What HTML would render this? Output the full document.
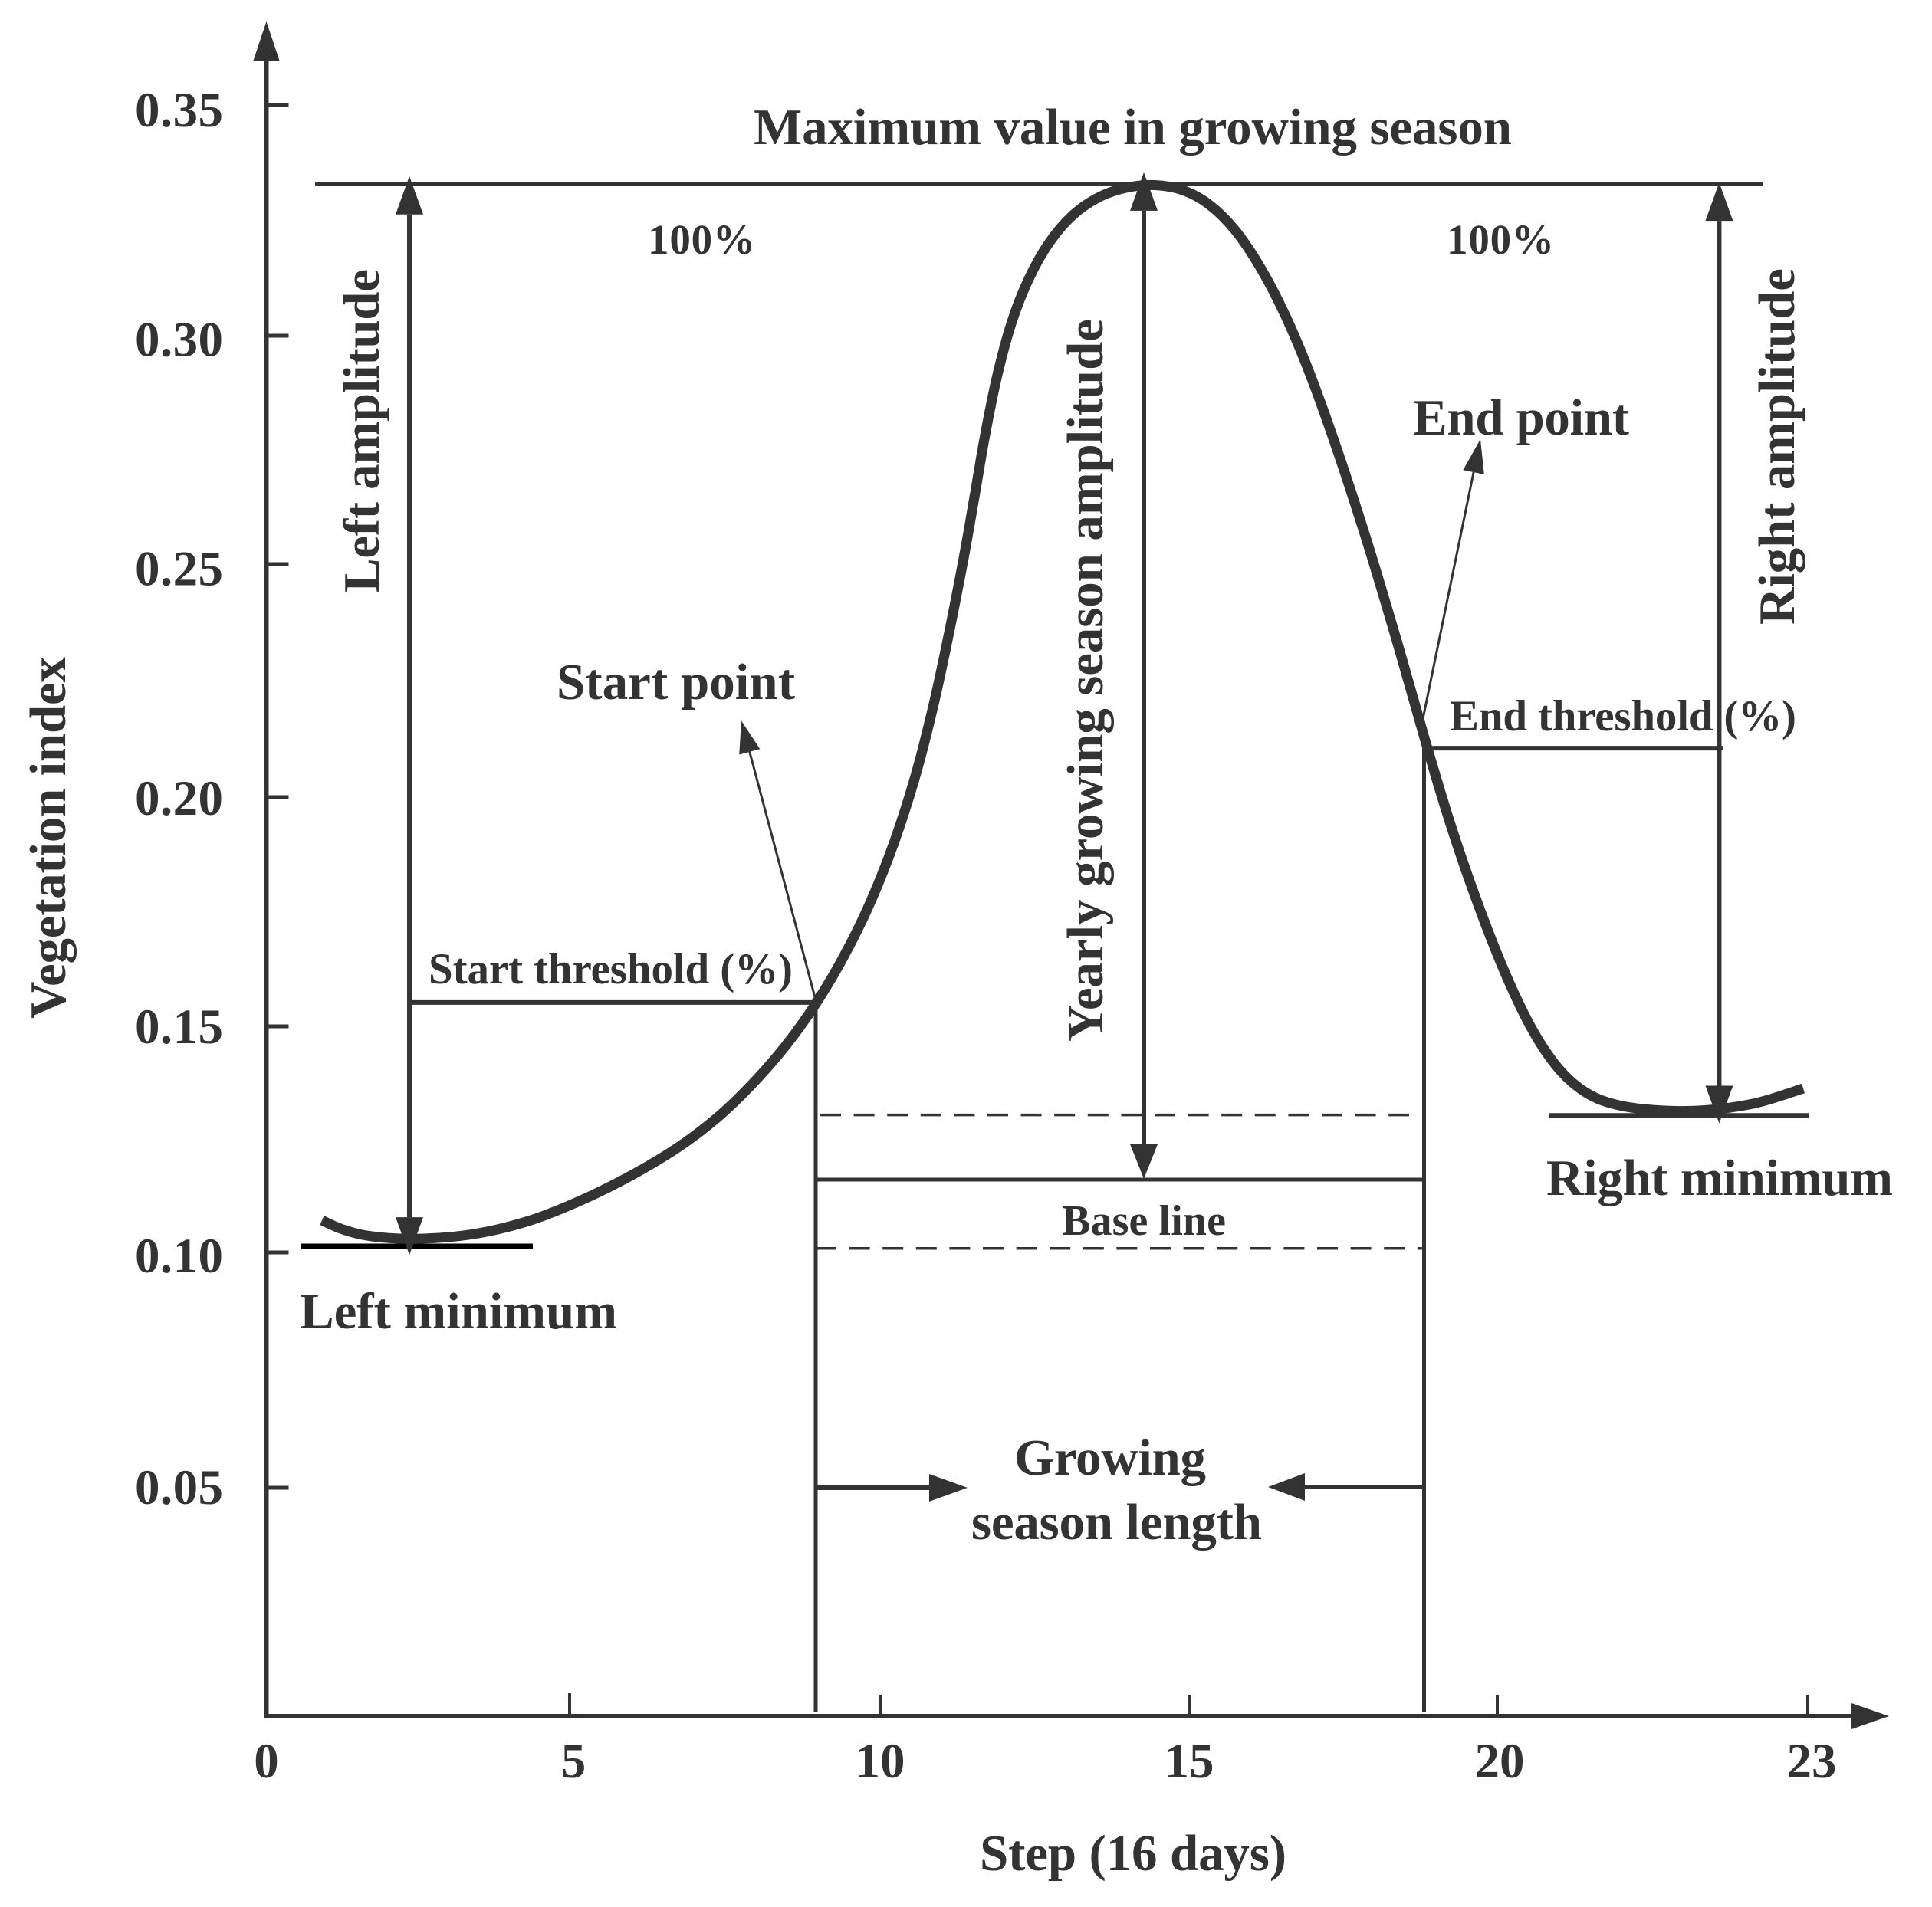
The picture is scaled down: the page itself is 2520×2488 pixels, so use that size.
<!DOCTYPE html>
<html lang="en">
<head>
<meta charset="utf-8">
<title>Vegetation index growing season diagram</title>
<style>
  html, body { margin: 0; padding: 0; background: #fff; }
  svg { display: block; }
  text { font-family: "Liberation Serif", serif; font-weight: bold; fill: #333; }
</style>
</head>
<body>
<svg id="chart" xmlns="http://www.w3.org/2000/svg" width="2520" height="2488" viewBox="0 0 2520 2488">
  <rect x="0" y="0" width="2520" height="2488" fill="#fff"/>
  <g id="marks"></g>
  <g id="ticklabels" font-size="65"></g>

  <text x="1278" y="2440" font-size="67" textLength="400">Step (16 days)</text>
  <text x="85" y="1329" font-size="67" textLength="472" transform="rotate(-90 85 1329)">Vegetation index</text>
  <text x="983" y="188" font-size="67" textLength="989">Maximum value in growing season</text>
  <text x="845" y="331" font-size="55" textLength="140">100%</text>
  <text x="1887" y="331" font-size="55" textLength="140">100%</text>
  <text x="494" y="773" font-size="67" textLength="422" transform="rotate(-90 494 773)">Left amplitude</text>
  <text x="2340" y="815" font-size="67" textLength="465" transform="rotate(-90 2340 815)">Right amplitude</text>
  <text x="1438" y="1359" font-size="67" textLength="943" transform="rotate(-90 1438 1359)">Yearly growing season amplitude</text>
  <text x="726" y="912" font-size="67" textLength="311">Start point</text>
  <text x="1843" y="567" font-size="67" textLength="282">End point</text>
  <text x="559" y="1283" font-size="57" textLength="475">Start threshold (%)</text>
  <text x="1891" y="953" font-size="57" textLength="452">End threshold (%)</text>
  <text x="1385" y="1611" font-size="56" textLength="214">Base line</text>
  <text x="391" y="1733" font-size="67" textLength="414">Left minimum</text>
  <text x="2017" y="1559" font-size="67" textLength="452">Right minimum</text>
  <text x="1323" y="1924" font-size="67" textLength="250">Growing</text>
  <text x="1267" y="2008" font-size="67" textLength="379">season length</text>
</svg>

<script>
// ---- data ----
const xTickValues = [0, 5, 10, 15, 20, 23];
const xTickLabels = ["0", "5", "10", "15", "20", "23"];
const yTickValues = [0.05, 0.10, 0.15, 0.20, 0.25, 0.30, 0.35];
const yTickLabels = ["0.05", "0.10", "0.15", "0.20", "0.25", "0.30", "0.35"];

const curveSteps = [0.917, 1.233, 1.675, 2.358, 3.496, 4.33, 5.173, 6.0, 6.827, 7.383, 7.926, 8.481, 8.951, 9.407, 9.815, 10.236, 10.608, 10.893, 11.141, 11.39, 11.538, 11.675, 11.886, 12.109, 12.382, 12.717, 13.089, 13.536, 13.958, 14.454, 14.901, 15.323, 15.734, 16.144, 16.567, 16.94, 17.388, 17.886, 18.383, 18.843, 19.216, 19.677, 20.104, 20.348, 20.593, 20.844, 21.089, 21.407, 21.948, 22.496, 22.956];
const curveValues = [0.1071, 0.1049, 0.1034, 0.10254, 0.10356, 0.10661, 0.11119, 0.11678, 0.12356, 0.12949, 0.13678, 0.14525, 0.15418, 0.16472, 0.17542, 0.18963, 0.20526, 0.22072, 0.23684, 0.25336, 0.2656, 0.27701, 0.29178, 0.30299, 0.31246, 0.32043, 0.32658, 0.3304, 0.33239, 0.33306, 0.33206, 0.32907, 0.32375, 0.31578, 0.30465, 0.29312, 0.27584, 0.25554, 0.23339, 0.21118, 0.19448, 0.17642, 0.15936, 0.14814, 0.13966, 0.13492, 0.13271, 0.13136, 0.13093, 0.1322, 0.13627];

const maxValue = 0.3329;
const maxLineSteps = [0.803, 22.57];
const leftMinValue = 0.10136;
const leftMinSteps = [0.575, 4.393];
const rightMinValue = 0.1303;
const rightMinSteps = [20.496, 23.01];
const startStep = 8.963;
const endStep = 18.812;
const startThreshold = 0.1552;
const endThreshold = 0.2105;
const baseValue = 0.1161;
const upperDashValue = 0.1304;
const upperDashSteps = [9.037, 18.57];
const lowerDashValue = 0.1009;
const lowerDashSteps = [8.963, 18.78];
const leftAmpStep = 2.358;
const leftAmpValues = [0.0995, 0.3346];
const rightAmpStep = 22.144;
const rightAmpValues = [0.12856, 0.3332];
const centerAmpStep = 14.268;
const centerAmpValues = [0.1163, 0.3354];
const thresholdEndX = 22.18;
const lengthArrowValue = 0.05;
const lengthArrowTips = [11.414, 16.281];
const startCalloutTip = [7.765, 0.2164];
const endCalloutTip = [19.726, 0.27735];
const endCalloutBase = [18.79, 0.2166];

// ---- axis functions ----
function piecewise(domain, range) {
  return function (v) {
    let i = 0;
    while (i < domain.length - 2 && v > domain[i + 1]) i++;
    const t = (v - domain[i]) / (domain[i + 1] - domain[i]);
    return range[i] + t * (range[i + 1] - range[i]);
  };
}
const x = piecewise([0, 5, 10, 15, 20, 23], [347.5, 743, 1148, 1551, 1953, 2358]);
const y = piecewise([0, 0.05, 0.10, 0.15, 0.20, 0.25, 0.30, 0.35], [2239, 1941, 1634, 1339, 1040, 736, 438, 137]);
const yLabel = piecewise([0.05, 0.10, 0.15, 0.20, 0.35], [1962, 1660, 1361, 1063, 165]);

// ---- drawing helpers ----
const NS = "http://www.w3.org/2000/svg";
const INK = "#333";
const marks = document.getElementById("marks");
const labels = document.getElementById("ticklabels");

function line(name, x1, y1, x2, y2, width, color, dash) {
  const el = document.createElementNS(NS, "line");
  
  
  el.setAttribute("x1", x1);
  el.setAttribute("y1", y1);
  el.setAttribute("x2", x2);
  el.setAttribute("y2", y2);
  el.setAttribute("stroke", color || INK);
  el.setAttribute("stroke-width", width);
  if (dash) el.setAttribute("stroke-dasharray", dash);
  marks.appendChild(el);
  return el;
}

function arrow(name, x1, y1, x2, y2, width, headLen, headHalf) {
  const d = Math.hypot(x2 - x1, y2 - y1);
  const ux = (x2 - x1) / d, uy = (y2 - y1) / d;
  const bx = x2 - ux * headLen, by = y2 - uy * headLen;
  line(name + "-shaft", x1, y1, bx, by, width);
  const head = document.createElementNS(NS, "polygon");
  
  
  head.setAttribute("fill", INK);
  head.setAttribute("points",
    x2 + "," + y2 + " " +
    (bx - uy * headHalf) + "," + (by + ux * headHalf) + " " +
    (bx + uy * headHalf) + "," + (by - ux * headHalf));
  marks.appendChild(head);
}

function tickLabel(name, text, px, py, anchor, len) {
  const el = document.createElementNS(NS, "text");
  
  
  el.setAttribute("x", px);
  el.setAttribute("y", py);
  el.setAttribute("text-anchor", anchor);
  if (len) el.setAttribute("textLength", len);
  el.textContent = text;
  labels.appendChild(el);
}

// ---- axes ----
arrow("y-axis", x(0), y(0) + 3, x(0), 28, 6, 51, 17);
arrow("x-axis", x(0) - 3, y(0), 2464, y(0), 6, 49, 17);

xTickValues.forEach(function (v, i) {
  if (v > 0) line("x-tick-" + xTickLabels[i], x(v), y(0), x(v), y(0) - (v === 5 ? 30 : 27), 4);
  const off = v === 23 ? 5 : (v === 0 ? 0 : (v === 5 ? 5 : (v === 20 ? 3 : 0)));
  tickLabel("x-tick-label-" + xTickLabels[i], xTickLabels[i], x(v) + off, 2319, "middle");
});
yTickValues.forEach(function (v, i) {
  line("y-tick-" + yTickLabels[i], x(0), y(v), x(0) + 29, y(v), 5);
  tickLabel("y-tick-label-" + yTickLabels[i], yTickLabels[i], 176, yLabel(v), "start", 115);
});

// ---- reference lines ----
line("maximum-value-line", x(maxLineSteps[0]), y(maxValue), x(maxLineSteps[1]), y(maxValue), 6);
line("left-minimum-line", x(leftMinSteps[0]), y(leftMinValue), x(leftMinSteps[1]), y(leftMinValue), 7, "#000");
line("right-minimum-line", x(rightMinSteps[0]), y(rightMinValue), x(rightMinSteps[1]), y(rightMinValue), 6);
line("start-threshold-line", x(leftAmpStep), y(startThreshold), x(startStep), y(startThreshold), 6);
line("end-threshold-line", x(endStep), y(endThreshold), x(thresholdEndX), y(endThreshold), 6);
line("start-vertical-line", x(startStep), y(startThreshold), x(startStep), y(0) - 5, 5);
line("end-vertical-line", x(endStep), y(endThreshold), x(endStep), y(0) - 5, 5);
line("base-line", x(startStep), y(baseValue), x(endStep), y(baseValue), 5);
line("upper-dashed-line", x(upperDashSteps[0]), y(upperDashValue), x(upperDashSteps[1]), y(upperDashValue), 3.5, INK, "27 16.6");
line("lower-dashed-line", x(lowerDashSteps[0]), y(lowerDashValue), x(lowerDashSteps[1]), y(lowerDashValue), 3.5, INK, "27 16.6");

// ---- curve: light 1-2-1 smoothing of hand-read points, then Catmull-Rom ----
const rawPts = curveSteps.map(function (s, i) { return [x(s), y(curveValues[i])]; });
const pts = rawPts.map(function (p, i) {
  if (i === 0 || i === rawPts.length - 1) return p;
  const a = rawPts[i - 1], b = rawPts[i + 1];
  return [(a[0] + 2 * p[0] + b[0]) / 4, (a[1] + 2 * p[1] + b[1]) / 4];
});
let d = "M" + pts[0][0] + "," + pts[0][1];
for (let i = 0; i < pts.length - 1; i++) {
  const p0 = pts[Math.max(i - 1, 0)], p1 = pts[i], p2 = pts[i + 1], p3 = pts[Math.min(i + 2, pts.length - 1)];
  const c1x = p1[0] + (p2[0] - p0[0]) / 6, c1y = p1[1] + (p2[1] - p0[1]) / 6;
  const c2x = p2[0] - (p3[0] - p1[0]) / 6, c2y = p2[1] - (p3[1] - p1[1]) / 6;
  d += " C" + c1x + "," + c1y + " " + c2x + "," + c2y + " " + p2[0] + "," + p2[1];
}
const curve = document.createElementNS(NS, "path");


curve.setAttribute("d", d);
curve.setAttribute("fill", "none");
curve.setAttribute("stroke", INK);
curve.setAttribute("stroke-width", 13);
marks.appendChild(curve);

// ---- amplitude arrows ----
arrow("left-amplitude-up", x(leftAmpStep), y(0.2), x(leftAmpStep), y(leftAmpValues[1]), 6, 50, 18);
arrow("left-amplitude-down", x(leftAmpStep), y(0.2), x(leftAmpStep), y(leftAmpValues[0]), 6, 49, 18);
arrow("right-amplitude-up", x(rightAmpStep), y(0.2), x(rightAmpStep), y(rightAmpValues[1]), 6, 50, 18);
arrow("right-amplitude-down", x(rightAmpStep), y(0.2), x(rightAmpStep), y(rightAmpValues[0]), 6, 49, 18);
arrow("yearly-amplitude-up", x(centerAmpStep), y(0.2), x(centerAmpStep), y(centerAmpValues[1]), 6, 50, 18);
arrow("yearly-amplitude-down", x(centerAmpStep), y(0.2), x(centerAmpStep), y(centerAmpValues[0]), 6, 45, 18);

// ---- growing season length arrows ----
arrow("length-arrow-left", x(startStep), y(lengthArrowValue), x(lengthArrowTips[0]), y(lengthArrowValue), 6, 50, 18);
arrow("length-arrow-right", x(endStep), y(lengthArrowValue) - 1, x(lengthArrowTips[1]), y(lengthArrowValue) - 1, 6, 48, 18);

// ---- callouts ----
arrow("start-point-callout", x(startStep), y(startThreshold) - 3, x(startCalloutTip[0]), y(startCalloutTip[1]), 3, 42, 14);
arrow("end-point-callout", x(endCalloutBase[0]), y(endCalloutBase[1]), x(endCalloutTip[0]), y(endCalloutTip[1]), 3, 44, 14);
</script>
</body>
</html>
